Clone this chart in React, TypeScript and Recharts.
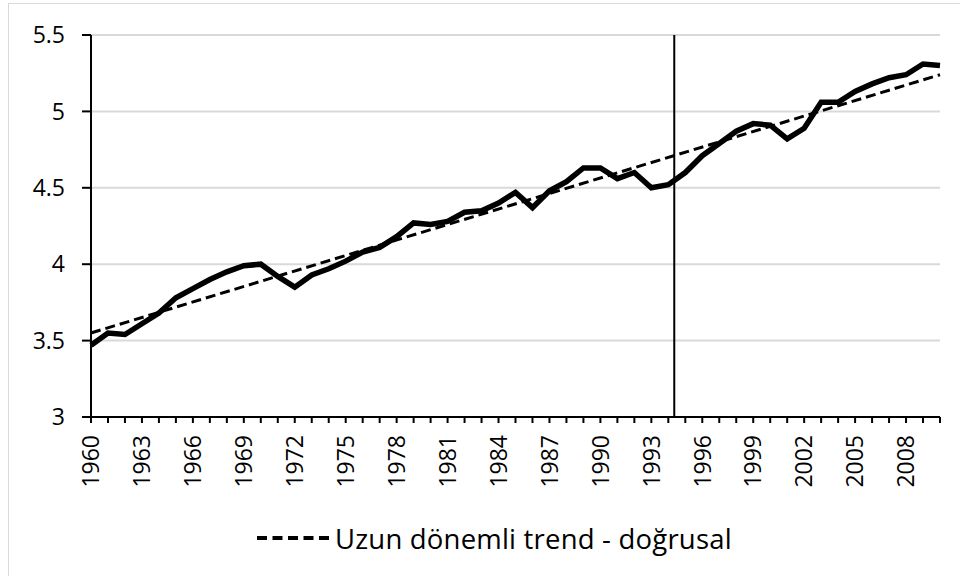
import { LineChart, Line, XAxis, YAxis, CartesianGrid, ReferenceLine } from "recharts";

const years = [
  1960, 1961, 1962, 1963, 1964, 1965, 1966, 1967, 1968, 1969,
  1970, 1971, 1972, 1973, 1974, 1975, 1976, 1977, 1978, 1979,
  1980, 1981, 1982, 1983, 1984, 1985, 1986, 1987, 1988, 1989,
  1990, 1991, 1992, 1993, 1994, 1995, 1996, 1997, 1998, 1999,
  2000, 2001, 2002, 2003, 2004, 2005, 2006, 2007, 2008, 2009, 2010,
];

const values = [
  3.47, 3.55, 3.54, 3.61, 3.68, 3.78, 3.84, 3.9, 3.95, 3.99,
  4.0, 3.92, 3.85, 3.93, 3.97, 4.02, 4.08, 4.11, 4.18, 4.27,
  4.26, 4.28, 4.34, 4.35, 4.4, 4.47, 4.37, 4.48, 4.54, 4.63,
  4.63, 4.56, 4.6, 4.5, 4.52, 4.6, 4.71, 4.79, 4.87, 4.92,
  4.91, 4.82, 4.89, 5.06, 5.06, 5.13, 5.18, 5.22, 5.24, 5.31, 5.3,
];

const trendYears = [1960, 2010];
const trendValues = [3.55, 5.24];

const yTicks = [3, 3.5, 4, 4.5, 5, 5.5];
const breakYear = 1994.35;

const data = years.map((y, i) => {
  const t = trendYears.indexOf(y);
  return { year: y, value: values[i], trend: t >= 0 ? trendValues[t] : null };
});

const FONT = "'Open Sans', 'Noto Sans', sans-serif";

function YearTick(props: any) {
  const { x, y, payload } = props;
  const yr = payload.value as number;
  if ((yr - 1960) % 3 !== 0) return null;
  return (
    <text
      x={x}
      y={y}
      transform={`rotate(-90, ${x}, ${y})`}
      textAnchor="end"
      dy="0.36em"
      fontSize={23}
      fontFamily={FONT}
      fill="#000"
    >
      {yr}
    </text>
  );
}

function fmtY(v: number) {
  return String(v);
}

export default function App() {
  return (
    <div
      style={{
        position: "fixed",
        left: 0,
        top: 0,
        width: 960,
        height: 576,
        background: "#fff",
        fontFamily: FONT,
        overflow: "hidden",
      }}
    >
      <div
        style={{
          position: "absolute",
          left: 8,
          top: 3,
          width: 960,
          height: 600,
          borderLeft: "1.5px solid #d9d9d9",
          borderTop: "1.5px solid #d9d9d9",
        }}
      />
      <LineChart
        width={960}
        height={576}
        data={data}
        margin={{ top: 35, right: 20, left: 0, bottom: 64 }}
        style={{ position: "absolute", left: 0, top: 0 }}
      >
        <CartesianGrid vertical={false} stroke="#d9d9d9" strokeWidth={2} />
        <XAxis
          dataKey="year"
          type="number"
          domain={[1960, 2010]}
          ticks={years}
          interval={0}
          height={95}
          tickSize={6}
          tickMargin={12}
          axisLine={{ stroke: "#000", strokeWidth: 2 }}
          tickLine={{ stroke: "#000", strokeWidth: 2 }}
          tick={<YearTick />}
        />
        <YAxis
          type="number"
          domain={[3, 5.5]}
          ticks={yTicks}
          allowDataOverflow
          width={91}
          tickSize={9}
          tickMargin={17}
          tickFormatter={fmtY}
          axisLine={{ stroke: "#000", strokeWidth: 2 }}
          tickLine={{ stroke: "#000", strokeWidth: 2 }}
          tick={{ fill: "#000", fontSize: 23, fontFamily: FONT }}
        />
        <ReferenceLine
          x={breakYear}
          stroke="#000"
          strokeWidth={2}
          segment={[
            { x: breakYear, y: 3 },
            { x: breakYear, y: 5.52 },
          ]}
          ifOverflow="visible"
        />
        <Line
          dataKey="trend"
          stroke="#000"
          strokeWidth={3}
          strokeDasharray="10 5"
          dot={false}
          connectNulls
          isAnimationActive={false}
        />
        <Line
          dataKey="value"
          stroke="#000"
          strokeWidth={5.5}
          strokeLinejoin="miter"
          dot={false}
          isAnimationActive={false}
        />
      </LineChart>
      <div
        style={{
          position: "absolute",
          left: 257,
          top: 520,
          height: 36,
          display: "flex",
          alignItems: "center",
        }}
      >
        <svg width={72} height={10} style={{ marginRight: 6 }}>
          <line x1={0} y1={5} x2={72} y2={5} stroke="#000" strokeWidth={4} strokeDasharray="10 5.5" />
        </svg>
        <span style={{ fontSize: 27.5, letterSpacing: 0.2, color: "#000", whiteSpace: "nowrap" }}>
          Uzun dönemli trend - doğrusal
        </span>
      </div>
    </div>
  );
}
